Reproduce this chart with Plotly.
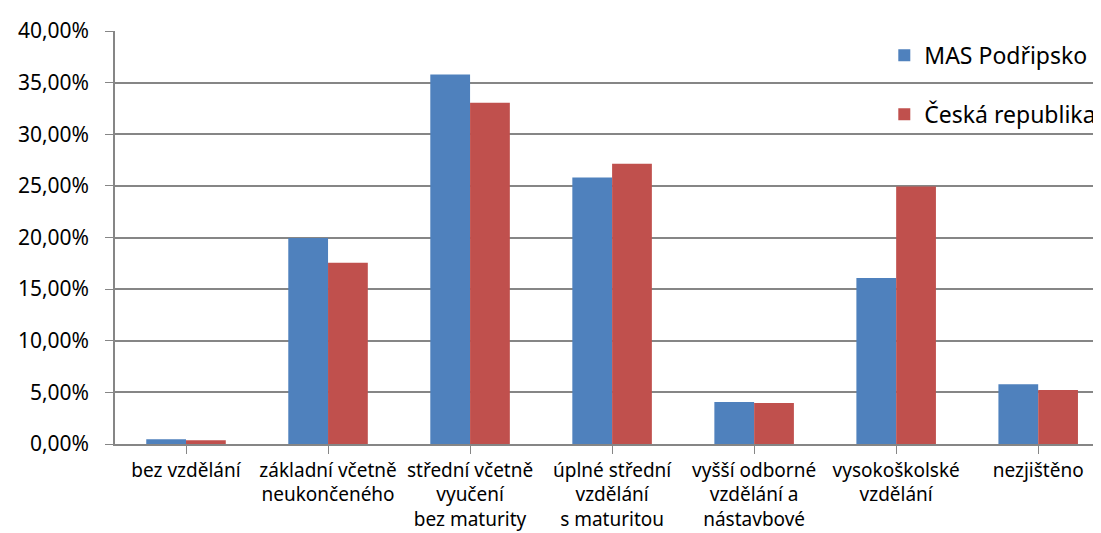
import plotly.graph_objects as go

categories = [
    "bez vzdělání",
    "základní včetně<br>neukončeného",
    "střední včetně<br>vyučení<br>bez maturity",
    "úplné střední<br>vzdělání<br>s maturitou",
    "vyšší odborné<br>vzdělání a<br>nástavbové",
    "vysokoškolské<br>vzdělání",
    "nezjištěno",
]
mas_podripsko = [0.45, 19.94, 35.79, 25.80, 4.07, 16.08, 5.78]
ceska_republika = [0.37, 17.55, 33.06, 27.15, 3.97, 24.93, 5.24]
series_names = ["MAS Podřipsko", "Česká republika"]
y_ticks = [0, 5, 10, 15, 20, 25, 30, 35, 40]
y_tick_labels = ["0,00%", "5,00%", "10,00%", "15,00%", "20,00%",
                 "25,00%", "30,00%", "35,00%", "40,00%"]

x_idx = list(range(len(categories)))

fig = go.Figure()
fig.add_trace(go.Bar(x=x_idx, y=mas_podripsko, name=series_names[0],
                     marker=dict(color="#4F81BD", line=dict(width=0)),
                     legendgroup="a"))
fig.add_trace(go.Bar(x=x_idx, y=ceska_republika, name=series_names[1],
                     marker=dict(color="#C0504D", line=dict(width=0)),
                     legendgroup="b"))

fig.update_layout(
    width=1101, height=533,
    margin=dict(l=107, r=8, t=16, b=97),
    paper_bgcolor="white", plot_bgcolor="white",
    barmode="group", bargap=0.44, bargroupgap=0,
    font=dict(family="Noto Sans", color="black"),
    legend=dict(x=0.785, y=0.993, xanchor="left", yanchor="top",
                font=dict(size=23), traceorder="grouped",
                tracegroupgap=26, bgcolor="rgba(0,0,0,0)",
                itemwidth=30),
    showlegend=True,
)
fig.update_xaxes(
    tickmode="array", tickvals=x_idx, ticktext=categories,
    range=[-0.5, 6.4], showline=True, linecolor="#868686", linewidth=1.5,
    ticks="outside", tickson="boundaries", ticklen=8, tickcolor="#868686",
    tickfont=dict(size=19), showgrid=False,
)
fig.update_yaxes(
    range=[0, 40], tickmode="array", tickvals=y_ticks, ticktext=y_tick_labels,
    showline=True, linecolor="#868686", linewidth=1.5,
    ticks="outside", ticklen=8, tickcolor="#868686", ticklabelstandoff=12,
    showgrid=True, gridcolor="#868686", gridwidth=1.5,
    tickfont=dict(size=21), zeroline=False,
)

fig.write_html("out.html")
